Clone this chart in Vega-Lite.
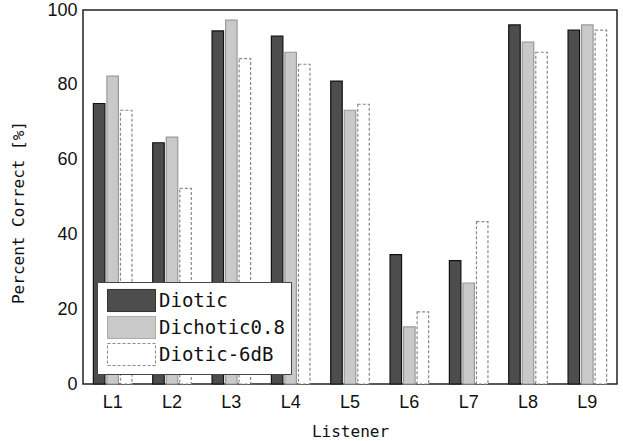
{
  "$schema": "https://vega.github.io/schema/vega-lite/v6.json",
  "width": 534,
  "height": 374,
  "autosize": "none",
  "padding": {"left": 83, "top": 10, "right": 6, "bottom": 57},
  "background": "white",
  "config": {
    "view": {"stroke": "#222", "strokeWidth": 1.5},
    "axis": {"grid": false, "domain": false, "labelColor": "#111", "titleColor": "#111"}
  },
  "data": {
    "values": [
      {"listener": "L1", "condition": "Diotic", "pct": 75},
      {"listener": "L1", "condition": "Dichotic0.8", "pct": 82.3},
      {"listener": "L1", "condition": "Diotic-6dB", "pct": 73.2},
      {"listener": "L2", "condition": "Diotic", "pct": 64.5},
      {"listener": "L2", "condition": "Dichotic0.8", "pct": 66},
      {"listener": "L2", "condition": "Diotic-6dB", "pct": 52.3},
      {"listener": "L3", "condition": "Diotic", "pct": 94.4},
      {"listener": "L3", "condition": "Dichotic0.8", "pct": 97.3},
      {"listener": "L3", "condition": "Diotic-6dB", "pct": 87},
      {"listener": "L4", "condition": "Diotic", "pct": 93},
      {"listener": "L4", "condition": "Dichotic0.8", "pct": 88.7},
      {"listener": "L4", "condition": "Diotic-6dB", "pct": 85.5},
      {"listener": "L5", "condition": "Diotic", "pct": 81},
      {"listener": "L5", "condition": "Dichotic0.8", "pct": 73.2},
      {"listener": "L5", "condition": "Diotic-6dB", "pct": 74.8},
      {"listener": "L6", "condition": "Diotic", "pct": 34.6},
      {"listener": "L6", "condition": "Dichotic0.8", "pct": 15.3},
      {"listener": "L6", "condition": "Diotic-6dB", "pct": 19.3},
      {"listener": "L7", "condition": "Diotic", "pct": 33},
      {"listener": "L7", "condition": "Dichotic0.8", "pct": 27},
      {"listener": "L7", "condition": "Diotic-6dB", "pct": 43.4},
      {"listener": "L8", "condition": "Diotic", "pct": 96},
      {"listener": "L8", "condition": "Dichotic0.8", "pct": 91.4},
      {"listener": "L8", "condition": "Diotic-6dB", "pct": 88.7},
      {"listener": "L9", "condition": "Diotic", "pct": 94.6},
      {"listener": "L9", "condition": "Dichotic0.8", "pct": 96},
      {"listener": "L9", "condition": "Diotic-6dB", "pct": 94.6}
    ]
  },
  "mark": {"type": "bar", "strokeWidth": 1.2},
  "encoding": {
    "x": {
      "field": "listener", "type": "nominal", "sort": null,
      "scale": {"paddingInner": 0.35, "paddingOuter": 0.175},
      "axis": {"title": "Listener", "labelAngle": 0, "ticks": false, "labelPadding": 9,
               "labelFont": "Liberation Sans", "labelFontSize": 18,
               "titleFont": "DejaVu Sans Mono", "titleFontSize": 16, "titleFontWeight": "normal", "titlePadding": 12}
    },
    "xOffset": {
      "field": "condition", "type": "nominal", "sort": ["Diotic", "Dichotic0.8", "Diotic-6dB"],
      "scale": {"paddingInner": 0.15}
    },
    "y": {
      "field": "pct", "type": "quantitative",
      "scale": {"domain": [0, 100]},
      "axis": {"title": "Percent Correct [%]", "values": [0, 20, 40, 60, 80, 100], "ticks": false, "labelPadding": 6,
               "labelFont": "Liberation Sans", "labelFontSize": 18,
               "titleFont": "DejaVu Sans Mono", "titleFontSize": 16, "titleFontWeight": "normal",
               "titleX": -57, "titleY": 202, "titleAngle": -90, "titleBaseline": "bottom", "titleAlign": "center"}
    },
    "fill": {
      "field": "condition", "type": "nominal", "sort": ["Diotic", "Dichotic0.8", "Diotic-6dB"],
      "scale": {"domain": ["Diotic", "Dichotic0.8", "Diotic-6dB"], "range": ["#4d4d4d", "#c9c9c9", "#ffffff"]},
      "legend": {
        "title": null, "orient": "none", "legendX": 14, "legendY": 272,
        "direction": "vertical",
        "fillColor": "white", "strokeColor": "#444", "padding": 6,
        "symbolType": "M-2,-0.92H2V0.92H-2Z", "symbolSize": 576, "symbolStrokeWidth": 1, "symbolOffset": 16,
        "labelFont": "DejaVu Sans Mono", "labelFontSize": 19, "labelColor": "#111", "labelOffset": 15,
        "labelExpr": "datum.label + '\u00a0'",
        "rowPadding": 0
      }
    },
    "stroke": {
      "field": "condition", "type": "nominal",
      "scale": {"domain": ["Diotic", "Dichotic0.8", "Diotic-6dB"], "range": ["#111111", "#999999", "#888888"]}
    },
    "strokeDash": {
      "field": "condition", "type": "nominal",
      "scale": {"domain": ["Diotic", "Dichotic0.8", "Diotic-6dB"], "range": [[1, 0], [1, 0], [3, 2]]}
    }
  }
}
